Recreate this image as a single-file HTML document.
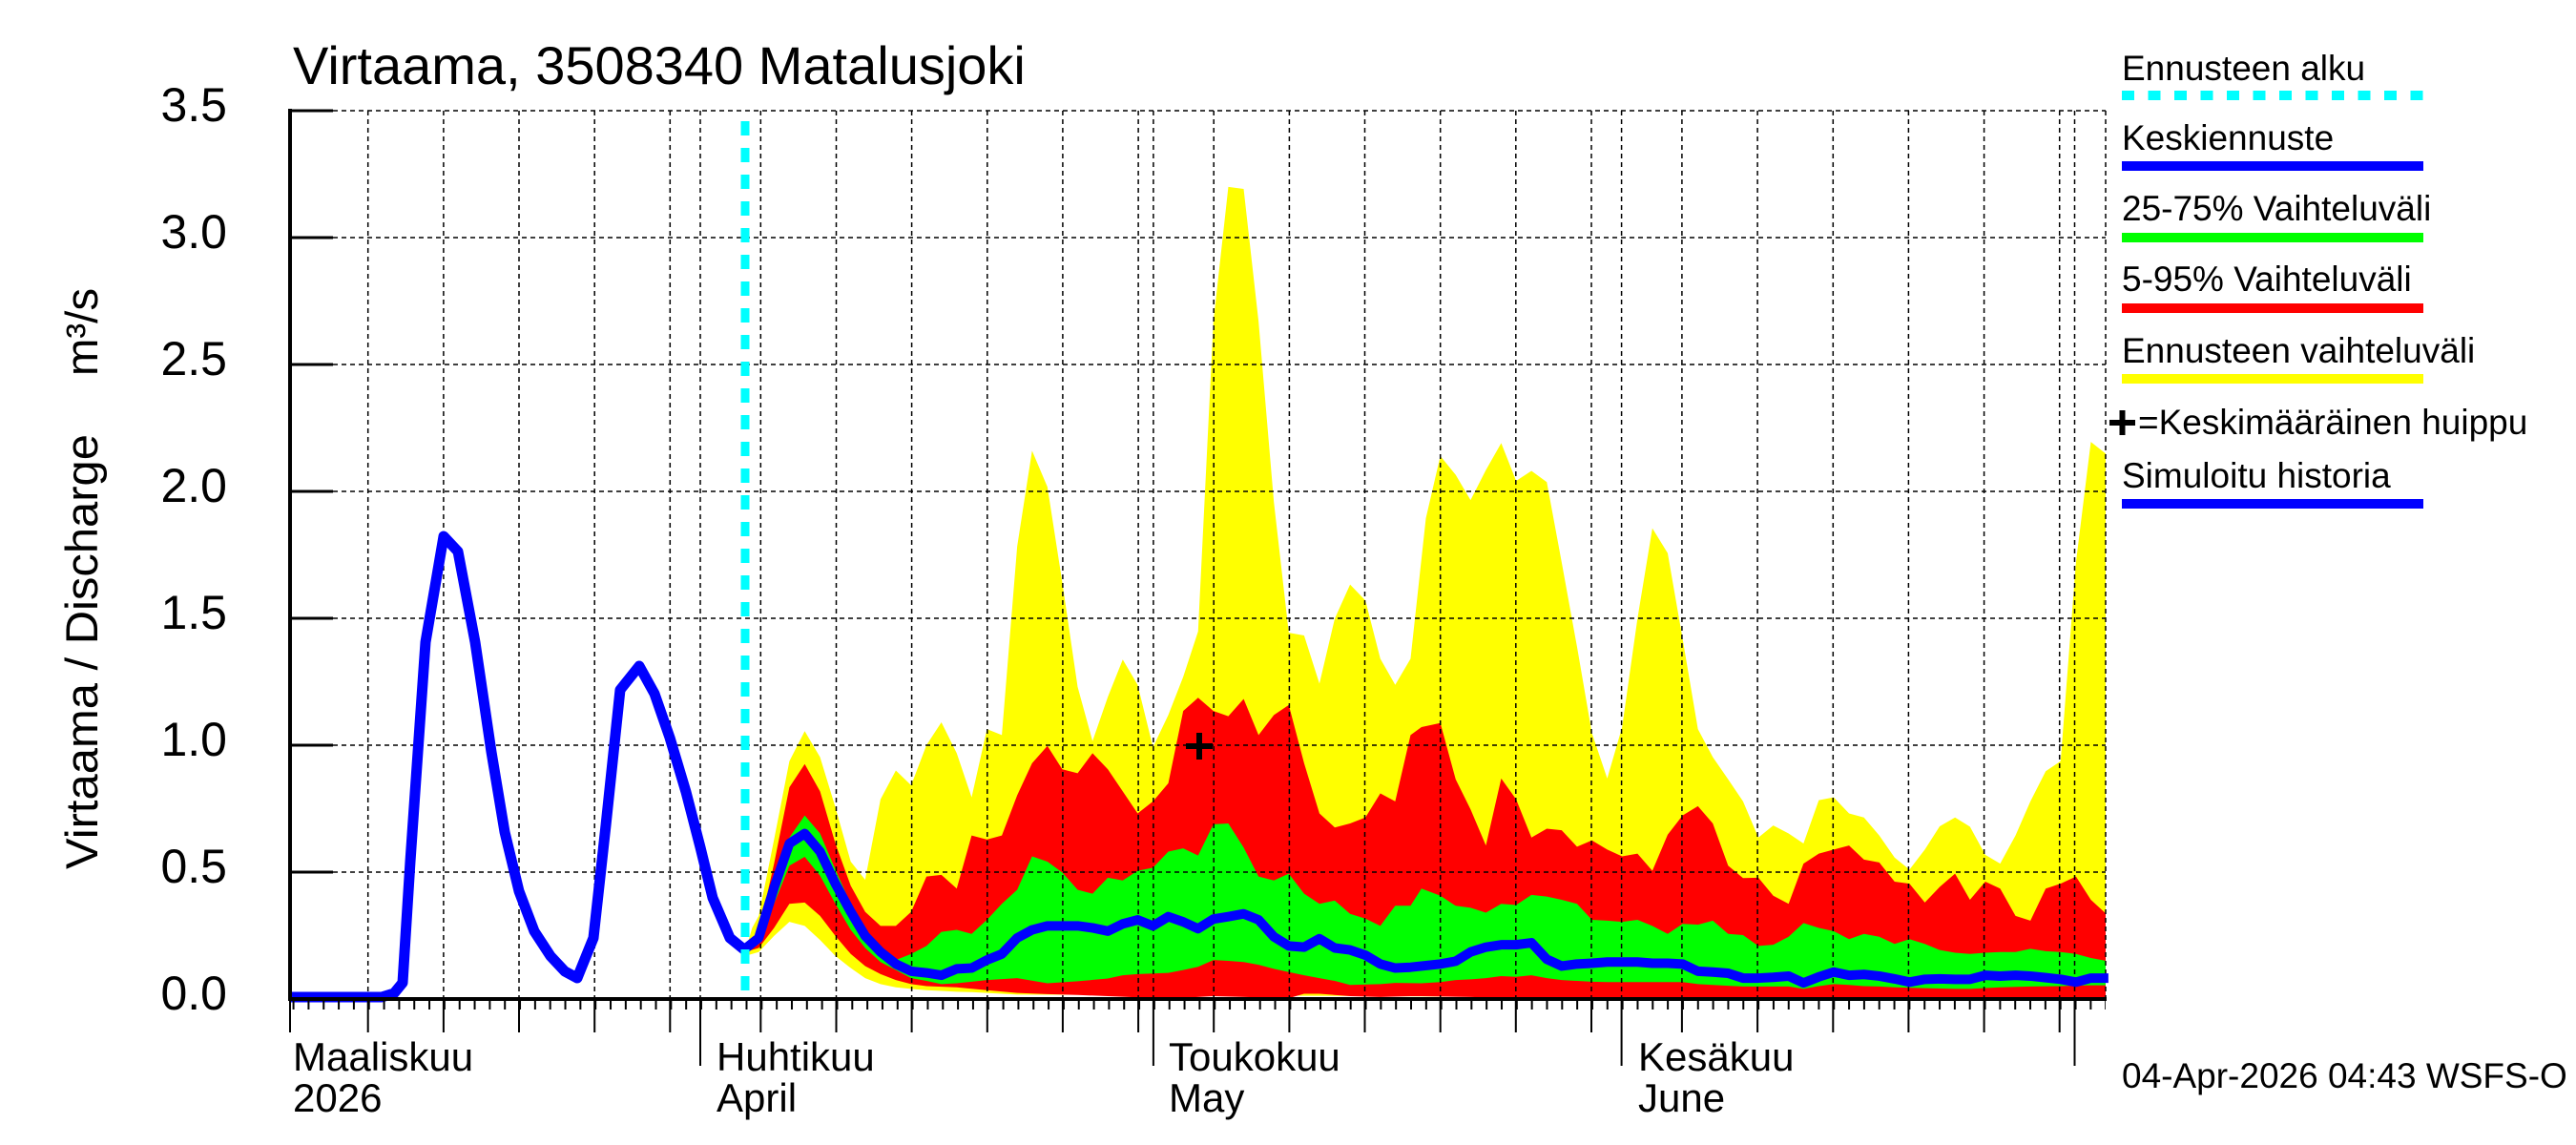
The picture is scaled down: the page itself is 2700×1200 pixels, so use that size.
<!DOCTYPE html>
<html><head><meta charset="utf-8"><style>
html,body{margin:0;padding:0;background:#fff;}
svg{display:block;font-family:"Liberation Sans",Arial,sans-serif;}
</style></head><body>
<svg width="2700" height="1200" viewBox="0 0 2700 1200" xmlns="http://www.w3.org/2000/svg">
<defs>
<pattern id="mt" x="734" y="1047" width="15.83" height="12" patternUnits="userSpaceOnUse">
<rect x="0" y="0" width="2" height="11" fill="#000"/>
</pattern>
<clipPath id="pc"><rect x="304" y="100" width="1903" height="948"/></clipPath>
</defs>
<rect width="2700" height="1200" fill="#fff"/>

<g clip-path="url(#pc)">
<g transform="translate(770 400) scale(0.45914 0.42092)">
<polygon fill="#ffff00" points="24,1420 40,1360 55,1330 90,1140 125,945 160,870 195,935 230,1060 265,1195 298,1240 333,1040 368,968 403,1005 438,905 472,848 507,925 541,1035 576,865 610,880 645,410 679,172 714,262 748,500 783,760 817,895 852,785 886,692 920,755 955,910 990,830 1024,735 1058,622 1093,-150 1127,-485 1162,-480 1196,-150 1231,300 1265,625 1300,632 1335,752 1370,590 1405,505 1440,545 1474,690 1508,755 1543,690 1568,440 1578,340 1611,185 1646,232 1680,295 1715,220 1750,153 1784,247 1819,222 1854,250 1888,450 1923,660 1957,875 1992,988 2026,860 2061,590 2095,365 2130,427 2164,640 2199,865 2233,935 2268,990 2302,1045 2337,1135 2371,1105 2406,1125 2440,1150 2475,1042 2509,1035 2544,1075 2578,1085 2613,1130 2648,1185 2682,1215 2717,1165 2751,1107 2786,1085 2820,1108 2855,1178 2889,1200 2924,1130 2958,1045 2993,970 3027,945 3062,450 3096,150 3131,180 3136,185 3136,1538 645,1526 610,1524 576,1522 541,1520 507,1519 472,1517 438,1515 403,1512 368,1508 333,1500 298,1485 265,1460 230,1430 195,1390 160,1355 125,1345 90,1380 55,1420 24,1430"/>
<polygon fill="#ff0000" points="24,1420 55,1370 90,1200 125,1010 160,952 195,1020 230,1150 265,1255 298,1320 333,1355 368,1355 403,1320 438,1232 472,1228 507,1262 541,1130 576,1140 610,1130 645,1030 679,950 714,907 748,965 783,975 817,925 852,965 886,1020 920,1075 955,1045 990,1000 1024,820 1058,787 1093,820 1127,833 1162,790 1196,880 1231,830 1265,805 1300,950 1335,1075 1370,1110 1405,1100 1440,1085 1474,1025 1508,1045 1543,880 1568,860 1611,850 1646,990 1680,1065 1715,1155 1750,988 1784,1040 1819,1135 1854,1113 1888,1117 1923,1158 1957,1142 1992,1165 2026,1182 2061,1175 2095,1218 2130,1128 2164,1080 2199,1057 2233,1100 2268,1205 2302,1236 2337,1235 2371,1280 2406,1300 2440,1200 2475,1175 2509,1165 2544,1155 2578,1190 2613,1197 2648,1245 2682,1250 2717,1297 2751,1258 2786,1225 2820,1290 2855,1245 2889,1262 2924,1330 2958,1342 2993,1262 3027,1250 3062,1232 3096,1290 3131,1325 3136,1328 3136,1536 2000,1537 1854,1536 1784,1535 1680,1532 1568,1530 1543,1530 1474,1532 1405,1530 1335,1524 1300,1524 1265,1535 1196,1533 1093,1530 1024,1534 920,1533 852,1530 783,1527 714,1525 645,1522 576,1515 507,1508 438,1505 403,1500 368,1490 333,1475 298,1455 265,1425 230,1380 195,1330 160,1297 125,1300 90,1360 55,1410"/>
<polygon fill="#00ff00" points="24,1420 55,1370 90,1250 125,1135 160,1080 195,1125 230,1215 265,1300 298,1365 333,1410 368,1440 403,1425 438,1405 472,1370 507,1365 541,1375 576,1340 610,1300 645,1265 679,1182 714,1195 748,1222 783,1265 817,1275 852,1235 886,1242 920,1218 955,1210 990,1170 1024,1162 1058,1180 1093,1102 1127,1100 1162,1160 1196,1232 1231,1242 1265,1225 1300,1275 1335,1300 1370,1292 1405,1325 1440,1337 1474,1355 1508,1305 1543,1305 1568,1262 1611,1280 1646,1305 1680,1310 1715,1322 1750,1300 1784,1303 1819,1278 1854,1282 1888,1290 1923,1300 1957,1340 1992,1342 2026,1345 2061,1340 2095,1355 2130,1375 2164,1350 2199,1352 2233,1342 2268,1375 2302,1378 2337,1405 2371,1402 2406,1382 2440,1348 2475,1360 2509,1368 2544,1388 2578,1375 2613,1382 2648,1400 2682,1388 2717,1400 2751,1415 2786,1422 2820,1425 2855,1422 2889,1420 2924,1420 2958,1412 2993,1418 3027,1420 3062,1425 3096,1435 3131,1442 3136,1443 3136,1503 3096,1503 3027,1505 2958,1506 2889,1508 2820,1512 2786,1512 2717,1510 2648,1508 2613,1506 2578,1505 2544,1502 2509,1500 2475,1505 2440,1512 2406,1506 2337,1506 2302,1506 2268,1504 2233,1502 2199,1500 2164,1495 2061,1495 1992,1495 1957,1494 1888,1490 1854,1485 1819,1478 1784,1482 1750,1480 1715,1485 1680,1488 1646,1490 1611,1495 1568,1498 1508,1497 1474,1500 1405,1502 1370,1492 1335,1485 1300,1478 1265,1470 1231,1462 1196,1452 1162,1445 1127,1442 1093,1440 1058,1457 1024,1465 990,1472 920,1475 886,1478 852,1486 783,1493 714,1498 645,1485 576,1490 507,1498 472,1500 438,1492 403,1485 368,1465 333,1445 298,1410 265,1365 230,1300 195,1230 160,1183 125,1205 90,1300 55,1400"/>
</g>
</g>

<g stroke="#000" stroke-width="1.5" stroke-dasharray="5,4" fill="none">
<path d="M304 914H2207M304 781H2207M304 648H2207M304 515H2207M304 382H2207M304 249H2207M304 116H2207M2207 116V1047"/>
<path d="M385.7 116V1047M464.9 116V1047M544 116V1047M623.2 116V1047M702.3 116V1047M734 116V1047M797.3 116V1047M876.5 116V1047M955.6 116V1047M1034.8 116V1047M1113.9 116V1047M1193.1 116V1047M1208.9 116V1047M1272.2 116V1047M1351.4 116V1047M1430.5 116V1047M1509.7 116V1047M1588.8 116V1047M1668 116V1047M1699.6 116V1047M1762.9 116V1047M1842.1 116V1047M1921.3 116V1047M2000.4 116V1047M2079.6 116V1047M2158.7 116V1047M2174.5 116V1047"/>
</g>

<g transform="translate(770 400) scale(0.45914 0.42092)">
<polyline fill="none" stroke="#0000ff" stroke-width="10" vector-effect="non-scaling-stroke" stroke-linejoin="round" points="24,1412 55,1385 90,1260 125,1150 160,1125 195,1170 230,1250 265,1320 298,1380 333,1420 368,1450 403,1468 438,1472 472,1478 507,1462 541,1460 576,1440 610,1425 645,1385 679,1365 714,1355 748,1355 783,1355 817,1360 852,1368 886,1350 920,1340 955,1355 990,1332 1024,1345 1058,1362 1093,1338 1127,1332 1162,1325 1196,1340 1231,1382 1265,1405 1300,1408 1335,1387 1370,1410 1405,1415 1440,1428 1474,1450 1508,1460 1543,1458 1568,1455 1611,1450 1646,1443 1680,1420 1715,1408 1750,1402 1784,1402 1819,1397 1854,1438 1888,1455 1923,1450 1957,1448 1992,1445 2026,1445 2061,1445 2095,1448 2130,1448 2164,1450 2199,1468 2233,1470 2268,1473 2302,1485 2337,1485 2371,1483 2406,1480 2440,1497 2475,1482 2509,1470 2544,1478 2578,1476 2613,1480 2648,1487 2682,1495 2717,1488 2751,1487 2786,1488 2820,1488 2855,1478 2889,1480 2924,1478 2958,1480 2993,1484 3027,1488 3062,1495 3096,1485 3136,1485"/>
</g>

<polyline fill="none" stroke="#0000ff" stroke-width="11" stroke-linejoin="round" points="304,1045 400,1045 413,1041 422,1030 430,903 446,673 465,562 480,578 498,673 515,788 529,872 544,934 560,976 577,1002 592,1018 605,1025 622,983 635,865 650,723 670,698 686,727 702,773 719,830 734,888 747,941 765,983 781,996"/>

<line x1="781" y1="127" x2="781" y2="1047" stroke="#00ffff" stroke-width="9" stroke-dasharray="15,13"/>

<path d="M1243 782H1271M1257 768V796" stroke="#000" stroke-width="6"/>

<path d="M304 114V1049M302 1047H2208" stroke="#000" stroke-width="4" fill="none"/>
<path d="M304 116H349M304 249H349M304 382H349M304 515H349M304 648H349M304 781H349M304 914H349" stroke="#000" stroke-width="3"/>
<rect x="305" y="1048" width="1902" height="10" fill="url(#mt)"/>
<path stroke="#000" stroke-width="2" d="M304 1047V1082M385.7 1047V1082M464.9 1047V1082M544 1047V1082M623.2 1047V1082M702.3 1047V1082M797.3 1047V1082M876.5 1047V1082M955.6 1047V1082M1034.8 1047V1082M1113.9 1047V1082M1193.1 1047V1082M1272.2 1047V1082M1351.4 1047V1082M1430.5 1047V1082M1509.7 1047V1082M1588.8 1047V1082M1668 1047V1082M1762.9 1047V1082M1842.1 1047V1082M1921.3 1047V1082M2000.4 1047V1082M2079.6 1047V1082M2158.7 1047V1082M734 1047V1117M1208.9 1047V1117M1699.6 1047V1117M2174.5 1047V1117"/>

<text x="307" y="88" font-size="56">Virtaama, 3508340 Matalusjoki</text>
<g font-size="50" text-anchor="end">
<text x="238" y="127">3.5</text>
<text x="238" y="260">3.0</text>
<text x="238" y="393">2.5</text>
<text x="238" y="526">2.0</text>
<text x="238" y="659">1.5</text>
<text x="238" y="792">1.0</text>
<text x="238" y="925">0.5</text>
<text x="238" y="1058">0.0</text>
</g>
<text transform="translate(102 911) rotate(-90)" font-size="47" textLength="456" lengthAdjust="spacingAndGlyphs">Virtaama / Discharge</text>
<text transform="translate(102 394) rotate(-90)" font-size="47" textLength="92" lengthAdjust="spacingAndGlyphs">m³/s</text>
<g font-size="42">
<text x="307" y="1122">Maaliskuu</text><text x="307" y="1165">2026</text>
<text x="751" y="1122">Huhtikuu</text><text x="751" y="1165">April</text>
<text x="1225" y="1122">Toukokuu</text><text x="1225" y="1165">May</text>
<text x="1717" y="1122">Kesäkuu</text><text x="1717" y="1165">June</text>
</g>

<g font-size="37">
<text x="2224" y="84">Ennusteen alku</text>
<line x1="2224" y1="100" x2="2540" y2="100" stroke="#00ffff" stroke-width="10" stroke-dasharray="13,14.5"/>
<text x="2224" y="157">Keskiennuste</text>
<line x1="2224" y1="174" x2="2540" y2="174" stroke="#0000ff" stroke-width="10"/>
<text x="2224" y="231">25-75% Vaihteluväli</text>
<line x1="2224" y1="249" x2="2540" y2="249" stroke="#00ff00" stroke-width="10"/>
<text x="2224" y="305">5-95% Vaihteluväli</text>
<line x1="2224" y1="323" x2="2540" y2="323" stroke="#ff0000" stroke-width="10"/>
<text x="2224" y="380">Ennusteen vaihteluväli</text>
<line x1="2224" y1="397" x2="2540" y2="397" stroke="#ffff00" stroke-width="10"/>
<path d="M2211 443H2238M2224.5 430V456" stroke="#000" stroke-width="6"/>
<text x="2241" y="455">=Keskimääräinen huippu</text>
<text x="2224" y="511">Simuloitu historia</text>
<line x1="2224" y1="528" x2="2540" y2="528" stroke="#0000ff" stroke-width="10"/>
<text x="2224" y="1140">04-Apr-2026 04:43 WSFS-O</text>
</g>
</svg>
</body></html>
